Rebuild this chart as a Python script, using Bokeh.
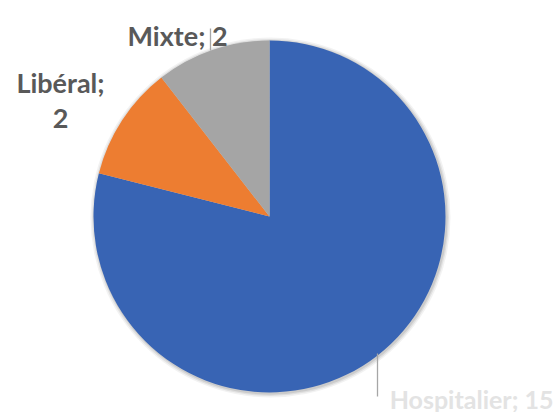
import numpy as np
from bokeh.plotting import figure
from bokeh.models import Range1d, ColumnDataSource
from bokeh.core.properties import value
from bokeh.embed import file_html
from bokeh.resources import INLINE

categories = ["Hospitalier", "Libéral", "Mixte"]
counts = [15, 2, 2]
colors = ["#3864B4", "#ED7D31", "#A5A5A5"]

W, H = 557, 412
p = figure(width=W, height=H, output_backend="svg", toolbar_location=None,
           x_range=Range1d(0, W), y_range=Range1d(0, H), min_border=0)
p.axis.visible = False
p.grid.visible = False
p.outline_line_color = None

cx, cy, r = 269, 196, 176
total = sum(counts)
fr = np.array(counts) / total
ends = np.pi / 2 - 2 * np.pi * np.cumsum(fr)
starts = np.concatenate([[np.pi / 2], ends[:-1]])

# soft shadow
for k, a in [(4, 0.05), (2.5, 0.07), (1.2, 0.09)]:
    p.circle(x=cx + 1, y=cy - 1, radius=r + k, fill_color="#000000",
             fill_alpha=a, line_color=None)

src = ColumnDataSource(dict(cat=categories, val=counts, start=list(starts),
                            end=list(ends), color=colors))
p.wedge(x=cx, y=cy, radius=r, start_angle="start", end_angle="end",
        direction="clock", fill_color="color", line_color=None, source=src)

font = value("Lato")
lab_color = "#595959"
# leader lines
p.line(x=[210, 210], y=[384, 362], line_color="#A6A6A6", line_width=1.3)
p.line(x=[377, 377], y=[59, 16], line_color="#A6A6A6", line_width=1.3)

p.text(x=[127], y=[377], text=[f"{categories[2]}; {counts[2]}"],
       text_font=font, text_font_style="bold", text_font_size="27px",
       text_color=lab_color, text_align="left", text_baseline="alphabetic")
p.text(x=[60, 60], y=[330, 294], text=[f"{categories[1]};", f"{counts[1]}"],
       text_font=font, text_font_style="bold", text_font_size="27px",
       text_color=lab_color, text_align="center", text_baseline="alphabetic")
p.text(x=[553], y=[14], text=[f"{categories[0]}; {counts[0]}"],
       text_font=font, text_font_style="bold", text_font_size="25px",
       text_color="#E3E3E3", text_align="right", text_baseline="alphabetic")

open("out.html", "w").write(file_html(p, INLINE))
